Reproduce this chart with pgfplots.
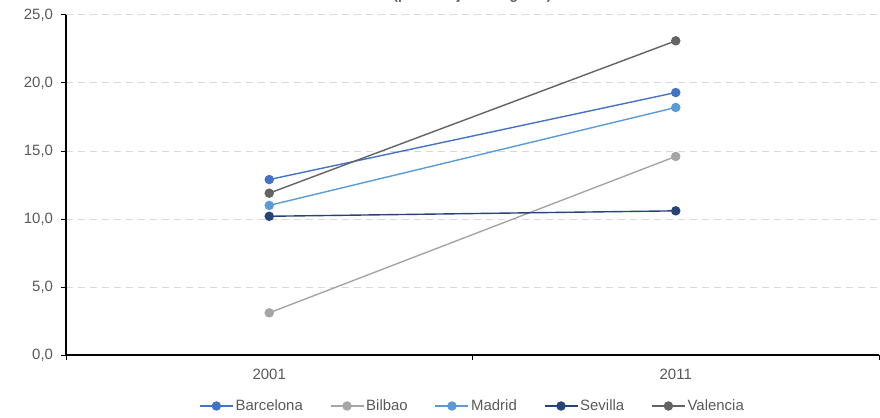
\documentclass[border=0pt]{standalone}
\usepackage{pgfplots}
\pgfplotsset{compat=1.18}
\usepackage{fontspec}
\setmainfont{Liberation Sans}
\definecolor{cBar}{HTML}{4472C4}
\definecolor{cBil}{HTML}{A5A5A5}
\definecolor{cMad}{HTML}{5B9BD5}
\definecolor{cSev}{HTML}{264478}
\definecolor{cVal}{HTML}{636363}
\definecolor{ctxt}{HTML}{595959}
\definecolor{cgrid}{HTML}{D9D9D9}
\begin{document}
\begin{tikzpicture}[x=1bp,y=1bp]
\begin{axis}[
  at={(0,0)}, anchor=south west,
  scale only axis, width=813bp, height=340bp,
  xmin=0, xmax=2, ymin=0, ymax=25,
  xtick={0,1,2}, xticklabels={},
  extra x ticks={0.5,1.5}, extra x tick labels={2001,2011},
  extra x tick style={major tick length=0pt, grid=none},
  ytick={0,5,10,15,20,25},
  yticklabel style={/pgf/number format/fixed, /pgf/number format/fixed zerofill, /pgf/number format/precision=1, /pgf/number format/use comma, xshift=-5bp},
  /pgf/number format/assume math mode=true,
  tick label style={font=\fontsize{15}{17}\selectfont, text=ctxt},
  xticklabel style={yshift=-11bp},
  tick align=outside, tick pos=left, major tick length=4.5bp,
  tick style={black, line width=1pt},
  axis x line*=bottom, axis y line*=left,
  axis line style={black, line width=1.3pt, -},
  ymajorgrids, major grid style={cgrid, dashed, dash pattern=on 7bp off 5bp, line width=1pt},
  xmajorgrids=false,
  every axis plot/.append style={line width=1.4pt, mark=*, mark size=4bp},
  legend columns=5,
  legend style={at={(0.5,-0.15)}, anchor=center, draw=none, fill=none,
    font=\fontsize{15}{17}\selectfont, text=ctxt,
    /tikz/every even column/.append style={column sep=25bp}},
  legend image code/.code={
    \draw[#1, mark=none] (0bp,0bp) -- (33bp,0bp);
    \draw[#1, only marks] plot coordinates {(16.5bp,0bp)};
  },
  clip=false,
]
\addplot[color=cBar, mark options={fill=cBar}] coordinates {(0.5,12.9) (1.5,19.3)};
\addlegendentry{Barcelona}
\addplot[color=cBil, mark options={fill=cBil}] coordinates {(0.5,3.1) (1.5,14.6)};
\addlegendentry{Bilbao}
\addplot[color=cMad, mark options={fill=cMad}] coordinates {(0.5,11.0) (1.5,18.2)};
\addlegendentry{Madrid}
\addplot[color=cSev, mark options={fill=cSev}] coordinates {(0.5,10.2) (1.5,10.6)};
\addlegendentry{Sevilla}
\addplot[color=cVal, mark options={fill=cVal}] coordinates {(0.5,11.9) (1.5,23.1)};
\addlegendentry{Valencia}
\node[font=\bfseries\fontsize{14}{16}\selectfont, text=ctxt, anchor=base] at (axis description cs:0.5,1.0) [yshift=15.5bp] {(porcentaje de hogares)};
\end{axis}
\pgfresetboundingbox
\useasboundingbox (-66bp,-63bp) rectangle (814bp,355bp);
\end{tikzpicture}
\end{document}
